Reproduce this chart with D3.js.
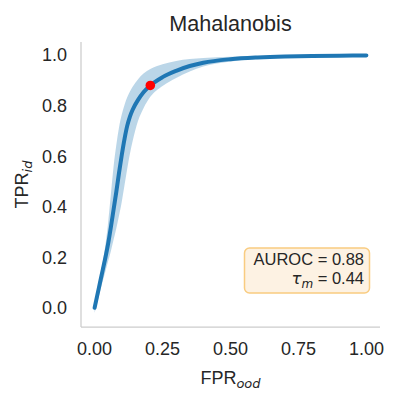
<!DOCTYPE html>
<html lang="en">
<head>
    <meta charset="UTF-8">
    <title>Mahalanobis ROC</title>
    <script src="https://d3js.org/d3.v7.min.js"></script>
    <style>
        body {
            margin: 0;
            background: #fff;
        }
        svg text {
            font-family: "Liberation Sans", Arial, sans-serif;
            fill: #262626;
        }
        .math {
            font-family: "DejaVu Sans", sans-serif;
            font-style: italic;
        }
    </style>
</head>
<body>
    <svg width="399" height="399"></svg>

    <script>
        // values
        const fpr      = [0, 0.01, 0.02, 0.03, 0.04, 0.05, 0.06, 0.07, 0.08, 0.09, 0.10, 0.11, 0.12, 0.13, 0.14, 0.16, 0.18, 0.205, 0.25, 0.30, 0.35, 0.40, 0.50, 0.60, 0.70, 0.80, 0.90, 1.00];
        const tprMean  = [0, 0.05, 0.10, 0.15, 0.20, 0.255, 0.32, 0.39, 0.46, 0.535, 0.605, 0.668, 0.72, 0.757, 0.784, 0.823, 0.853, 0.88, 0.913, 0.938, 0.957, 0.970, 0.984, 0.991, 0.995, 0.997, 0.998, 0.999];
        const tprUpper = [0.01, 0.06, 0.12, 0.18, 0.25, 0.34, 0.45, 0.56, 0.645, 0.715, 0.765, 0.803, 0.833, 0.856, 0.875, 0.905, 0.927, 0.945, 0.964, 0.977, 0.985, 0.989, 0.994, 0.996, 0.997, 0.998, 0.999, 1.0];
        const tprLower = [-0.02, 0.02, 0.065, 0.105, 0.145, 0.185, 0.225, 0.27, 0.315, 0.365, 0.42, 0.485, 0.55, 0.61, 0.66, 0.74, 0.79, 0.835, 0.878, 0.91, 0.935, 0.955, 0.975, 0.985, 0.99, 0.994, 0.996, 0.998];
        const threshPoint = [0.205, 0.88];
        const xTicks = [0, 0.25, 0.5, 0.75, 1.0];
        const yTicks = [0, 0.2, 0.4, 0.6, 0.8, 1.0];
        const auroc = "0.88";
        const tauM = "0.44";

        const svg = d3.select("svg");
        const mLeft = 81, mRight = 380, mTop = 42, mBottom = 327;

        const x = d3.scaleLinear().domain([-0.05, 1.05]).range([mLeft, mRight]);
        const y = d3.scaleLinear().domain([-0.076, 1.052]).range([mBottom, mTop]);

        const rows = fpr.map((f, i) => ({f: f, m: tprMean[i], lo: tprLower[i], hi: tprUpper[i]}));

        // confidence band
        svg.append("path")
            .datum(rows)
            .attr("fill", "#1f77b4")
            .attr("fill-opacity", 0.3)
            .attr("d", d3.area()
                .curve(d3.curveMonotoneX)
                .x(d => x(d.f))
                .y0(d => y(d.lo))
                .y1(d => y(d.hi)));

        // mean ROC curve
        svg.append("path")
            .datum(rows)
            .attr("fill", "none")
            .attr("stroke", "#1f77b4")
            .attr("stroke-width", 4)
            .attr("stroke-linecap", "round")
            .attr("d", d3.line()
                .curve(d3.curveMonotoneX)
                .x(d => x(d.f))
                .y(d => y(d.m)));

        svg.append("circle")
            .attr("cx", x(threshPoint[0]))
            .attr("cy", y(threshPoint[1]))
            .attr("r", 4.8)
            .attr("fill", "#ff0000");

        // spines (left + bottom only)
        svg.append("line")
            .attr("x1", mLeft).attr("x2", mLeft)
            .attr("y1", mTop).attr("y2", mBottom)
            .attr("stroke", "#cccccc").attr("stroke-width", 1.25);
        svg.append("line")
            .attr("x1", mLeft).attr("x2", mRight)
            .attr("y1", mBottom).attr("y2", mBottom)
            .attr("stroke", "#cccccc").attr("stroke-width", 1.25);

        // tick labels
        svg.append("g").selectAll("text")
            .data(xTicks)
            .enter().append("text")
            .attr("x", d => x(d))
            .attr("y", 355)
            .attr("text-anchor", "middle")
            .style("font-size", "18px")
            .text(d => d3.format(".2f")(d));

        svg.append("g").selectAll("text")
            .data(yTicks)
            .enter().append("text")
            .attr("x", 67)
            .attr("y", d => y(d))
            .attr("dy", "0.35em")
            .attr("text-anchor", "end")
            .style("font-size", "18px")
            .text(d => d3.format(".1f")(d));

        // title
        svg.append("text")
            .attr("x", (mLeft + mRight) / 2)
            .attr("y", 31)
            .attr("text-anchor", "middle")
            .style("font-size", "21.6px")
            .text("Mahalanobis");

        // axis labels
        const xl = svg.append("text")
            .attr("x", (mLeft + mRight) / 2)
            .attr("y", 384)
            .attr("text-anchor", "middle")
            .style("font-size", "18px");
        xl.append("tspan").text("FPR");
        xl.append("tspan").attr("class", "math").attr("dy", 4).style("font-size", "13px").text("ood");

        const yl = svg.append("text")
            .attr("transform", `translate(28,${(mTop + mBottom) / 2}) rotate(-90)`)
            .attr("text-anchor", "middle")
            .style("font-size", "18px");
        yl.append("tspan").text("TPR");
        yl.append("tspan").attr("class", "math").attr("dy", 4).style("font-size", "13px").text("id");

        // annotation box
        svg.append("rect")
            .attr("x", 244.5).attr("y", 248)
            .attr("width", 125).attr("height", 45)
            .attr("rx", 5)
            .attr("fill", "#fdf2e3")
            .attr("stroke", "#f9cc80")
            .attr("stroke-width", 1.5);

        svg.append("text")
            .attr("x", 364).attr("y", 264.5)
            .attr("text-anchor", "end")
            .style("font-size", "16.5px")
            .text("AUROC = " + auroc);

        const tau = svg.append("text")
            .attr("x", 364).attr("y", 283.5)
            .attr("text-anchor", "end")
            .style("font-size", "16.5px");
        tau.append("tspan").attr("class", "math").text("\u03c4");
        tau.append("tspan").attr("class", "math").attr("dy", 4).style("font-size", "12px").text("m");
        tau.append("tspan").attr("dy", -4).text(" = " + tauM);
    </script>
</body>
</html>
